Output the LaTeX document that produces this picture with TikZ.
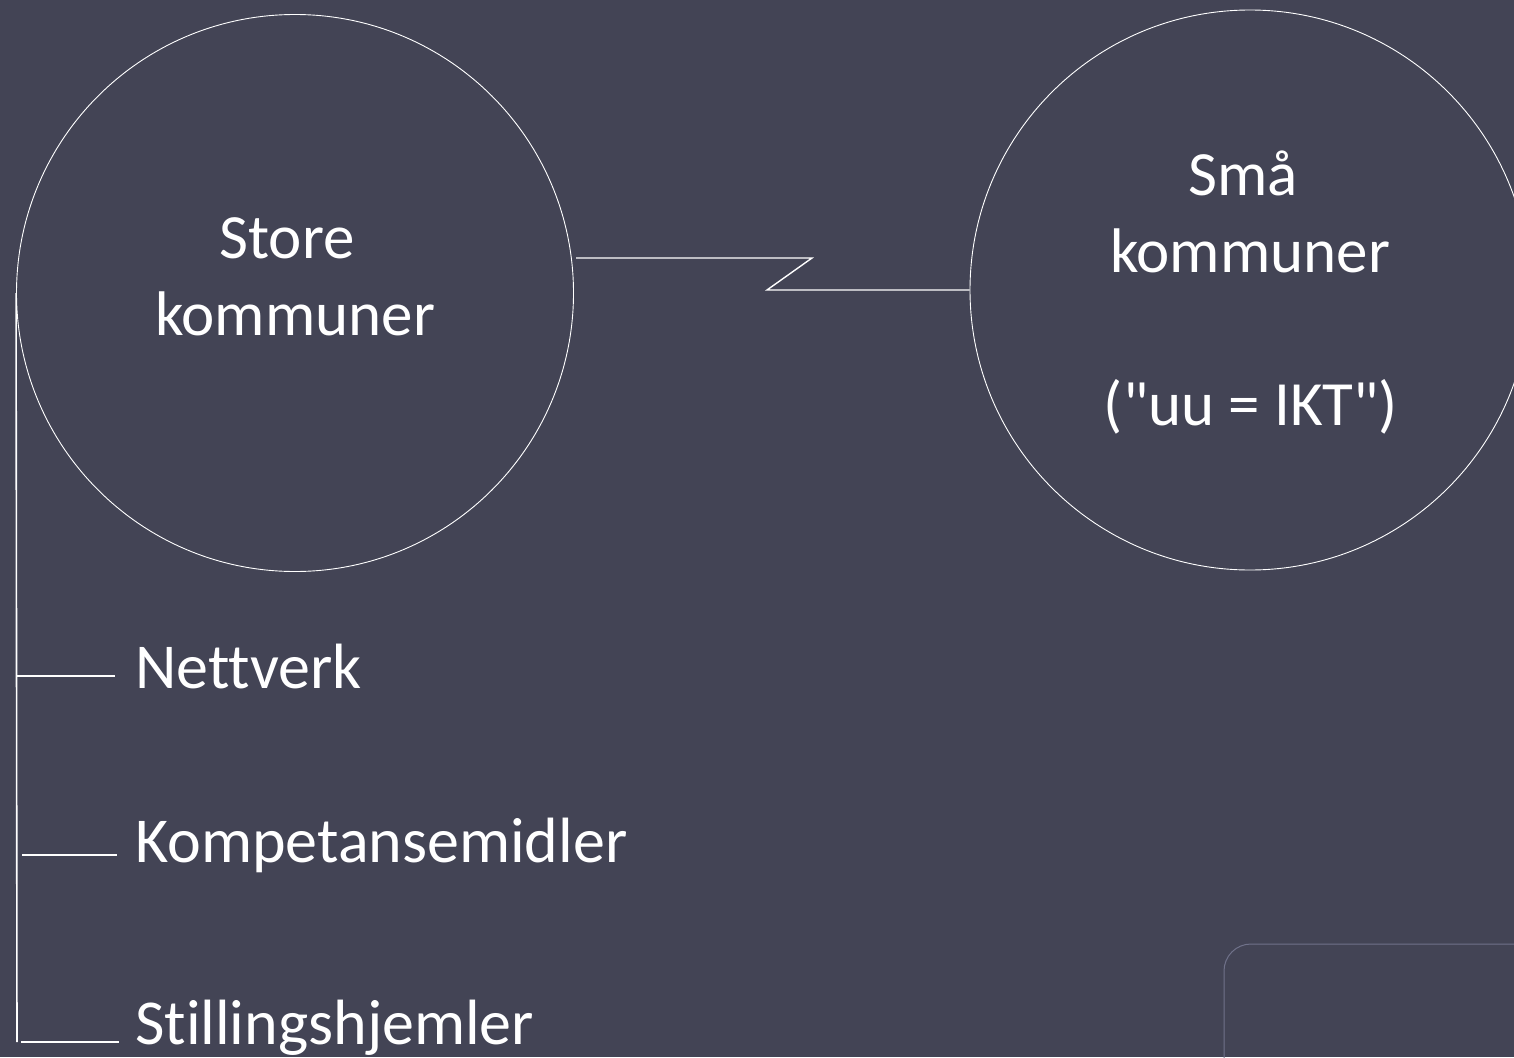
\documentclass[tikz,border=0pt]{standalone}
\usepackage{fontspec}
\setmainfont{Carlito}[Ligatures={NoCommon,TeXOff}]
\definecolor{bgc}{RGB}{67,68,85}
\definecolor{framec}{RGB}{112,114,138}
\begin{document}
\begin{tikzpicture}[x=1pt,y=-1pt,
  bubble/.style={circle,draw=white,line width=0.9pt,inner sep=0pt},
  lbl/.style={text=white,inner sep=0pt,font=\fontsize{63}{76}\selectfont},
  item/.style={lbl,anchor=base west,font=\fontsize{64}{76}\selectfont},
  conn/.style={draw=white,line width=1.4pt},
  branch/.style={draw=white,line width=1.8pt}]
\fill[bgc] (0,0) rectangle (1514,1057);
\useasboundingbox (0,0) rectangle (1514,1057);
% frame at bottom right
\draw[framec,line width=1pt,rounded corners=27pt] (1600,944) -- (1224,944) -- (1224,1120);
% circles
\node[bubble,minimum size=557pt] (L) at (295,293) {};
\node[bubble,minimum size=560pt] (R) at (1250,290) {};
% circle texts
\node[lbl,anchor=base] (Lt1) at (287,258) {Store};
\node[lbl,anchor=base] (Lt2) at (295,335) {kommuner};
\node[lbl,anchor=base] (Rt1) at (1243,195) {Små};
\node[lbl,anchor=base] (Rt2) at (1250,272) {kommuner};
\node[lbl,anchor=base] (Rt3) at (1251,425) {("uu = IKT")};
% zig-zag connector
\coordinate (z1) at (576,258);
\coordinate (z2) at (812,258);
\coordinate (z3) at (767,290);
\draw[conn,line join=miter] (z1) -- (z2) -- (z3) -- (R.west);
% list labels
\node[item] (n1) at (135,688) {Nettverk};
\node[item] (n2) at (135,862) {Kompetansemidler};
\node[item] (n3) at (135,1044) {Stillingshjemler};
% tree
\coordinate (tb) at (17,1042);
\draw[branch,line width=1.6pt] (L.west) -- (tb);
\coordinate (b1s) at (17,676);  \coordinate (b1e) at (115,676);
\coordinate (b2s) at (22,855);  \coordinate (b2e) at (117,855);
\coordinate (b3s) at (21,1042); \coordinate (b3e) at (119,1042);
\draw[branch] (b1s) -- (b1e);
\draw[branch] (b2s) -- (b2e);
\draw[branch] (b3s) -- (b3e);
\end{tikzpicture}
\end{document}
